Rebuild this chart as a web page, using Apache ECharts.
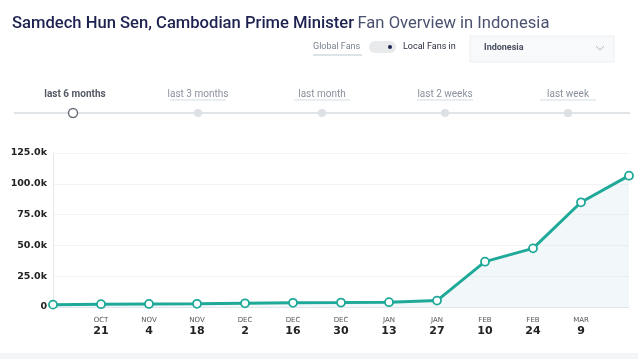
<!DOCTYPE html>
<html><head><meta charset="utf-8">
<script src="https://cdn.jsdelivr.net/npm/echarts@6/dist/echarts.min.js"></script>
<style>html,body{margin:0;padding:0;background:#fff}#c{width:638px;height:359px}</style>
</head><body><div id="c"></div>
<script>
const categories = ['Oct 7','Oct 21','Nov 4','Nov 18','Dec 2','Dec 16','Dec 30','Jan 13','Jan 27','Feb 10','Feb 24','Mar 9','Mar 23'];
const monthLabels = ['', 'OCT','NOV','NOV','DEC','DEC','DEC','JAN','JAN','FEB','FEB','MAR',''];
const dayLabels = ['', '21','4','18','2','16','30','13','27','10','24','9',''];
const fans = [1900, 2300, 2500, 2600, 3000, 3400, 3600, 3900, 5200, 36800, 47600, 85000, 106600];
const yTicks = [0, 25000, 50000, 75000, 100000, 125000];
const periods = ['last 6 months','last 3 months','last month','last 2 weeks','last week'];

const chart = echarts.init(document.getElementById('c'));
const periodX = [75, 198, 322, 445, 568];
const graphics = [
  {type:'text', x:12, y:15, style:{
    text:'{a|Samdech Hun Sen, Cambodian Prime Minister} {b|Fan Overview in Indonesia}',
    rich:{a:{fill:'#1e2250', font:'500 16.6px Roboto'}, b:{fill:'#4a5070', font:'16.6px Roboto'}}}},
  {type:'text', left:313, top:42, style:{text:'Global Fans', fill:'#7a8090', font:'9px Roboto'}},
  {type:'line', shape:{x1:313,y1:55,x2:362,y2:55}, style:{stroke:'#b8c8d0', lineWidth:1}},
  {type:'rect', shape:{x:369,y:41,width:27,height:12,r:6}, style:{fill:'#e8eaec'}},
  {type:'circle', shape:{cx:390,cy:47,r:2}, style:{fill:'#1e2250'}},
  {type:'text', left:403, top:42, style:{text:'Local Fans in', fill:'#2a2e40', font:'9px Roboto'}},
  {type:'rect', shape:{x:470,y:36,width:144,height:26}, style:{fill:'#f8f9fa', stroke:'#eceef0', lineWidth:1}},
  {type:'text', left:484, top:43, style:{text:'Indonesia', fill:'#4a5060', font:'bold 9px Roboto'}},
  {type:'polyline', shape:{points:[[596,46],[600,50],[604,46]]}, style:{stroke:'#b0b6c0', lineWidth:1, fill:null}},
  {type:'line', shape:{x1:14,y1:113,x2:630,y2:113}, style:{stroke:'#e2e5e8', lineWidth:2}}
];
periods.forEach((p,i)=>{
  graphics.push({type:'text', x:periodX[i], y:94, style:{text:p, fill:i===0?'#555a66':'#8a909c', font:(i===0?'bold ':'')+'10px Roboto', align:'center', verticalAlign:'middle'}});
  if(i>0) graphics.push({type:'line', shape:{x1:periodX[i]-28,y1:100,x2:periodX[i]+28,y2:100}, style:{stroke:'#c8d4dc', lineWidth:0.8}});
  if(i===0) graphics.push({type:'circle', shape:{cx:73,cy:113,r:4.5}, style:{fill:'#fff', stroke:'#6a707c', lineWidth:1.5}});
  else graphics.push({type:'circle', shape:{cx:periodX[i],cy:113,r:4}, style:{fill:'#dde0e4'}});
});
graphics.push({type:'rect', shape:{x:0,y:353,width:638,height:6}, style:{fill:'#f4f5f6'}});

chart.setOption({
  animation:false,
  graphic: graphics,
  grid:{left:53, right:9, top:153, bottom:52},
  xAxis:{type:'category', data:categories, boundaryGap:false,
    axisLine:{show:true, lineStyle:{color:'#dfe6ec'}}, axisTick:{show:false},
    axisLabel:{interval:0, margin:8,
      formatter:(v,i)=> monthLabels[i] ? '{m|'+monthLabels[i]+'}\n{d|'+dayLabels[i]+'}' : '',
      rich:{m:{fontSize:7, color:'#555', fontFamily:'DejaVu Sans', lineHeight:10},
            d:{fontSize:11, fontWeight:'bold', color:'#222', fontFamily:'DejaVu Sans', lineHeight:13}}}},
  yAxis:{type:'value', min:0, max:125000, interval:25000,
    axisLine:{show:true, lineStyle:{color:'#e6eaee'}}, axisTick:{show:false},
    splitLine:{lineStyle:{color:'#f1f3f5'}},
    axisLabel:{margin:6, color:'#222', fontWeight:'bold', fontSize:9.5, fontFamily:'DejaVu Sans',
      formatter:v=> v===0 ? '0' : (v/1000).toFixed(1)+'k'}},
  series:[{type:'line', data:fans, symbol:'circle', symbolSize:8,
    lineStyle:{color:'#1fa998', width:3},
    itemStyle:{color:'#fff', borderColor:'#1fa998', borderWidth:1.8},
    areaStyle:{color:'rgba(200,228,232,0.35)'}}]
});
</script></body></html>
